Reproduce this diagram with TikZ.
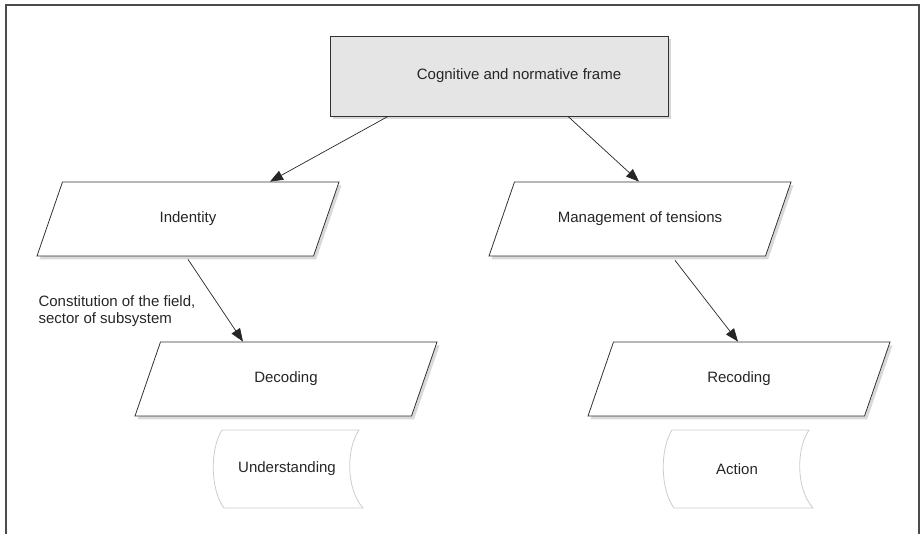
\documentclass[tikz,border=0pt]{standalone}
\usepackage{fontspec}
\setmainfont{Liberation Sans}
\usetikzlibrary{arrows.meta}
\usetikzlibrary{shapes.geometric}
\usetikzlibrary{shadows}
\tikzset{
every node/.style={font=\fontsize{15}{17}\selectfont, text=black!85},
framebox/.style={rectangle, draw=black!80, fill=black!10, line width=0.8pt, minimum width=338pt, minimum height=80pt,
  drop shadow={shadow xshift=2.5pt, shadow yshift=-3.5pt, opacity=0.3}},
lean/.style={trapezium, trapezium left angle=71, trapezium right angle=109, trapezium stretches body,
  draw=black!80, fill=white, line width=0.8pt, minimum width=302pt, minimum height=0pt,
  text height=11pt, text depth=3.5pt, inner ysep=29.75pt,
  drop shadow={shadow xshift=2.5pt, shadow yshift=-3.5pt, opacity=0.3}},
wavebox/.style={rectangle, draw=none, minimum width=140pt, minimum height=78pt},
waveline/.style={draw=black!20, line width=0.8pt},
arr/.style={-{Triangle[length=13pt,width=10pt]}, draw=black!85, line width=0.7pt}
}

\begin{document}
\begin{tikzpicture}[x=1pt, y=-1pt]
\useasboundingbox (0,0) rectangle (922,534);
\draw[black!70, line width=1.5pt] (6,534) -- (6,5) -- (919,5) -- (919,534);

\node[framebox] (frame) at (499,76) {\hspace*{40pt}Cognitive and normative frame};
\node[lean] (ind) at (188,219) {Indentity};
\node[lean] (mgmt) at (640,219) {Management of tensions};
\node[lean] (dec) at (286,379) {Decoding};
\node[lean] (rec) at (739,379) {Recoding};
\node[wavebox] (und) at (287,469) {Understanding};
\node[wavebox] (act) at (737,469) {Action};
\node[anchor=west, align=left] (field) at (35,311) {Constitution of the field,\\sector of subsystem};

% wavy outlines under the bottom boxes
\foreach \n in {und,act}{
  \draw[waveline, shift={(\n.center)}] (-65,-39) -- (72,-39) .. controls (59,-20) and (59,20) .. (76,39)
    -- (-63,39) .. controls (-77,20) and (-77,-20) .. cycle;
}

\draw[arr] ([xshift=-111pt]frame.south) -- ([xshift=82pt]ind.north);
\draw[arr] ([xshift=69pt]frame.south) -- ([xshift=-1pt]mgmt.north);
\draw[arr] ([yshift=-3pt]ind.south) -- ([xshift=-43pt]dec.north);
\draw[arr] ([xshift=35pt,yshift=-4pt]mgmt.south) -- ([xshift=-1pt]rec.north);
\end{tikzpicture}
\end{document}
